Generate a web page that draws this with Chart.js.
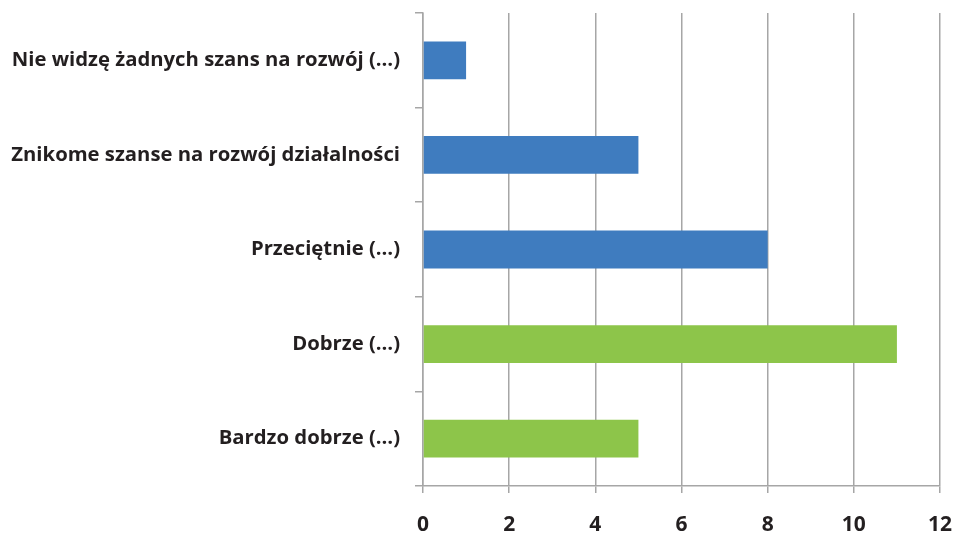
<!DOCTYPE html>
<html>
<head>
<meta charset="utf-8">
<script src="https://cdn.jsdelivr.net/npm/chart.js@4"></script>
<style>
  html, body { margin: 0; padding: 0; background: #fff; overflow: hidden; }
  #wrap { width: 954px; height: 533px; }
</style>
</head>
<body>
<div id="wrap"><canvas id="myChart"></canvas></div>
<script>
let labels = ['Nie widzę żadnych szans na rozwój (…)', 'Znikome szanse na rozwój działalności', 'Przeciętnie (…)', 'Dobrze (…)', 'Bardzo dobrze (…)'];
let values = [1, 5, 8, 11, 5];
let ticksX = [0, 2, 4, 6, 8, 10, 12];
let colorHex = ['#3F7CBF', '#3F7CBF', '#3F7CBF', '#8DC54A', '#8DC54A'];

let ctx = document.getElementById('myChart').getContext('2d');
let gridGray = '#a6a6a6';

let myChart = new Chart(ctx, {
  type: 'bar',
  data: {
    labels: labels,
    datasets: [{
      data: values,
      backgroundColor: colorHex,
      categoryPercentage: 1,
      barPercentage: 0.4
    }]
  },
  options: {
    indexAxis: 'y',
    responsive: true,
    maintainAspectRatio: false,
    animation: false,
    layout: { padding: { top: 13, right: 14, left: 0, bottom: 0 } },
    plugins: {
      legend: { display: false },
      tooltip: { enabled: false }
    },
    scales: {
      x: {
        min: 0,
        max: 12,
        afterBuildTicks: (scale) => {
          scale.ticks = ticksX.map(v => ({ value: v }));
        },
        afterFit: (scale) => {
          scale.height = 47;
          scale.paddingLeft = 0;
          scale.paddingRight = 0;
        },
        grid: { color: gridGray, lineWidth: 1.5, tickLength: 7 },
        border: { color: gridGray, width: 1.5 },
        ticks: {
          padding: 19,
          color: '#231f20',
          font: { family: 'Open Sans', weight: 'bold', size: 21 }
        }
      },
      y: {
        afterFit: (scale) => {
          scale.width = 423;
          scale.paddingTop = 0;
          scale.paddingBottom = 0;
        },
        grid: { drawOnChartArea: false, color: gridGray, lineWidth: 1.5, tickLength: 8, offset: true },
        border: { color: gridGray, width: 1.5 },
        ticks: {
          padding: 15,
          color: '#231f20',
          font: { family: 'Open Sans', weight: 'bold', size: 20.3 }
        }
      }
    }
  }
});
</script>
</body>
</html>
